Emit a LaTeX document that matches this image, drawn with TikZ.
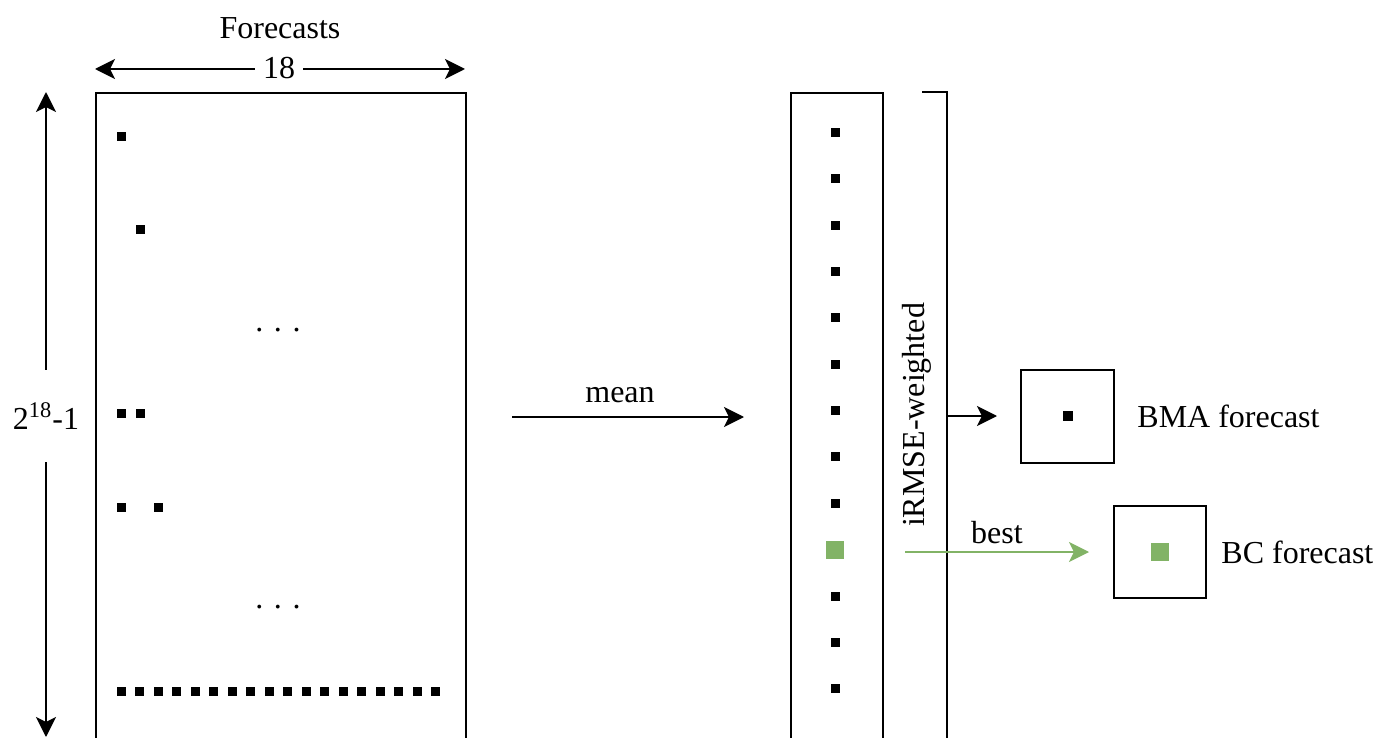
\documentclass[tikz,border=0pt]{standalone}
\usepackage{fontspec}
\setmainfont{Liberation Serif}
\usetikzlibrary{arrows.meta}
\definecolor{bcgreen}{HTML}{82B366}
\begin{document}
\begin{tikzpicture}[x=0.5pt,y=-0.5pt,
  every node/.style={font=\fontsize{16}{19}\selectfont, inner sep=0pt},
  line/.style={line width=1pt},
  arr/.style={line width=1pt,-{Stealth[length=10pt,width=10pt,inset=2.5pt]}},
  frame/.style={draw,line width=1pt,rectangle},
  sq/.style={fill=black,rectangle,minimum size=4.5pt},
  gsq/.style={fill=bcgreen,rectangle,minimum size=9pt},
]
\clip (0,0) rectangle (1378,738);
% left matrix
\node[frame,anchor=north west,minimum width=185pt,minimum height=360pt] (mat) at (95,92) {};
\node (fc) at (280,28) {Forecasts};
\node[inner xsep=4pt] (n18) at (279,68) {18};
\coordinate (tl) at (95,69);
\coordinate (tr) at (465,69);
\draw[arr] (n18.west |- tl) -- (tl);
\draw[arr] (n18.east |- tr) -- (tr);
\node[minimum height=46pt] (h) at (46,416) {2\textsuperscript{18}-1};
\coordinate (vt) at (46,92);
\coordinate (vb) at (46,737);
\draw[arr] (h.north) -- (vt);
\draw[arr] (h.south) -- (vb);
\node[sq] (a1) at (121,137) {};
\node[sq] (a2) at (140,230) {};
\node (d1) at (278,330) {. . .};
\node[sq] (a3) at (121,413) {};
\node[sq] (a4) at (140,413) {};
\node[sq] (a5) at (121,507) {};
\node[sq] (a6) at (158,507) {};
\node (d2) at (278,607) {. . .};
\foreach \i in {0,...,17} {\node[sq] (r\i) at ({121+18.5*\i},691) {};}
% mean arrow
\coordinate (m1) at (512,417);
\coordinate (m2) at (744,417);
\draw[arr] (m1) -- (m2);
\node (meanlbl) at (620,395) {mean};
% middle column
\node[frame,anchor=north west,minimum width=46pt,minimum height=360pt] (col) at (790,92) {};
\foreach \i in {0,...,8,10,11,12} {\node[sq] (c\i) at (835,{132.5+46.35*\i}) {};}
\node[gsq] (c9) at (835,{132.5+46.35*9}) {};
% bracket
\coordinate (b1) at (922,92);
\coordinate (b2) at (947,92);
\coordinate (b3) at (947,760);
\draw[line] (b1) -- (b2) -- (b3);
\node[rotate=90] (irmse) at (917,415) {iRMSE-weighted};
% BMA
\node[frame,minimum size=46.5pt] (bma) at (1067.5,416) {};
\node[sq,minimum size=5pt] (bmasq) at (bma.center) {};
\node[anchor=west] (bmatxt) at (1137,416) {BMA forecast};
\coordinate (w1) at (947,416);
\draw[arr,shorten >=11.5pt] (w1) -- (bma.west);
% BC
\node[frame,minimum size=46pt] (bc) at (1160,552) {};
\node[gsq] (bcsq) at (bc.center) {};
\node[anchor=west] (bctxt) at (1221,552) {BC forecast};
\coordinate (g1) at (905,552);
\draw[arr,draw=bcgreen,fill=bcgreen,shorten >=12pt] (g1) -- (bc.west);
\node (bestlbl) at (997,533) {best};
\end{tikzpicture}
\end{document}
